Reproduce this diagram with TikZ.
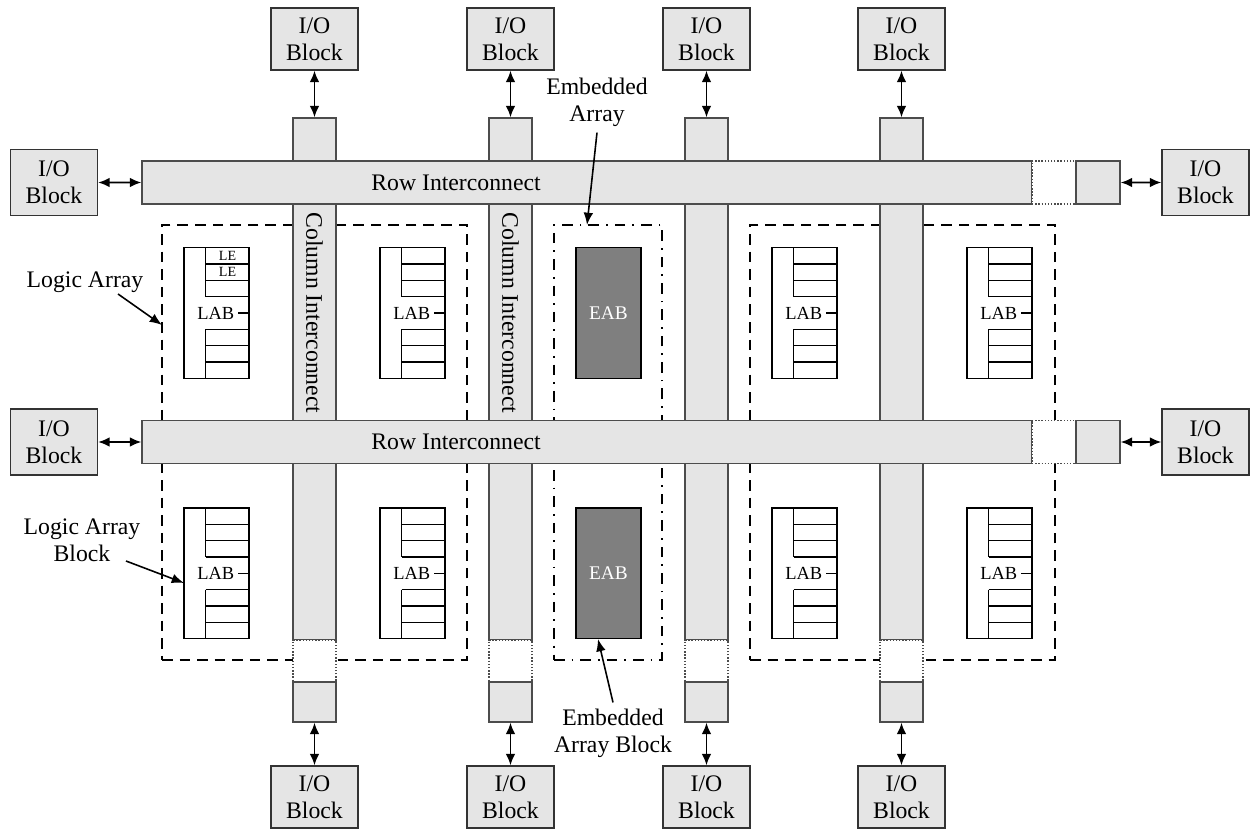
\documentclass[tikz,border=0pt]{standalone}
\usepackage{fontspec}
\setmainfont{Liberation Serif}
\usetikzlibrary{arrows.meta,fit}
\definecolor{lg}{HTML}{E5E5E5}
\definecolor{eabc}{HTML}{7F7F7F}
\tikzset{
 iobox/.style={draw=black!80, fill=lg, line width=0.9pt, minimum width=1.74cm, minimum height=1.24cm, inner sep=0pt, align=center, font=\fontsize{13.5}{15.5}\selectfont},
 bar/.style={draw=black!70, fill=lg, line width=0.9pt, inner sep=0pt},
 gapbar/.style={draw=black!70, fill=white, densely dotted, line width=0.8pt, inner sep=0pt},
 biarrow/.style={{Latex[length=6.5pt,width=5.5pt]}-{Latex[length=6.5pt,width=5.5pt]}, line width=0.9pt},
 ptr/.style={-{Latex[length=7pt,width=5.5pt]}, line width=0.9pt},
 labelt/.style={align=center, font=\fontsize{13.5}{15.5}\selectfont},
 labfr/.style={draw, line width=0.8pt, inner sep=0pt},
 lgbox/.style={draw, line width=0.8pt, dash pattern=on 6pt off 4pt, inner sep=0pt},
 eabbox/.style={draw, line width=0.8pt, dash pattern=on 6pt off 4pt on 1pt off 4pt, inner sep=0pt},
 eab/.style={draw, fill=eabc, line width=0.9pt, inner sep=0pt},
}
\newcommand\labblk[3]{%
\begin{scope}[shift={(#2,#3)}]
\node[labfr, fit={(0,0)(65,130.6)}] (#1) {};
\draw[line width=0.8pt] (21.7,0)--(21.7,49) (21.7,81.6)--(21.7,130.6);
\foreach \yy in {16.3,32.6,49,81.6,97.9,114.2} \draw[line width=0.8pt] (21.7,\yy)--(65,\yy);
\node[font=\fontsize{10.5}{12}\selectfont, inner sep=0pt] at (31.7,65.3) {LAB};
\draw[line width=0.8pt] (54,65.3)--(65,65.3);
\end{scope}}
\begin{document}
\begin{tikzpicture}[x=0.02cm,y=-0.02cm]
\useasboundingbox (0,0) rectangle (1250,834);
% logic array boxes
\node[lgbox, fit={(162,225)(467,660)}] (la1) {};
\node[lgbox, fit={(750,225)(1055,660)}] (la2) {};
\node[eabbox, fit={(554,225)(662,660)}] (ea) {};
% LABs
\labblk{lab1}{184}{247.7}
\labblk{lab2}{380}{247.7}
\labblk{lab3}{184}{508}
\labblk{lab4}{380}{508}
\labblk{lab5}{772}{247.7}
\labblk{lab6}{967}{247.7}
\labblk{lab7}{772}{508}
\labblk{lab8}{967}{508}
\node[font=\fontsize{8}{9}\selectfont, inner sep=0pt] at (227.5,255.9) {LE};
\node[font=\fontsize{8}{9}\selectfont, inner sep=0pt] at (227.5,272.2) {LE};
% EABs
\node[eab, fit={(576,247.7)(641,378.3)}] (eab1) {};
\node[eab, fit={(576,508)(641,638.6)}] (eab2) {};
\node[text=white, font=\fontsize{11}{13}\selectfont] at (eab1.center) {EAB};
\node[text=white, font=\fontsize{11}{13}\selectfont] at (eab2.center) {EAB};
% columns
\foreach \x/\n in {314.5/1, 510.5/2, 706.5/3, 901.5/4}{
  \node[bar, fit={({\x-21.5},118)({\x+21.5},640)}] (c\n a) {};
  \node[gapbar, fit={({\x-21.5},640)({\x+21.5},682)}] (c\n b) {};
  \node[bar, fit={({\x-21.5},682)({\x+21.5},722)}] (c\n c) {};
  \node[iobox] (ioT\n) at (\x,39) {I/O\\Block};
  \node[iobox] (ioB\n) at (\x,797) {I/O\\Block};
  \draw[biarrow] (ioT\n.south) -- (c\n a.north);
  \draw[biarrow] (c\n c.south) -- (ioB\n.north);
}
\node[labelt, rotate=-90] at (314.5,313) {Column Interconnect};
\node[labelt, rotate=-90] at (510.5,313) {Column Interconnect};
% rows
\foreach \y/\n in {182.5/1, 442/2}{
  \node[bar, fit={(142,{\y-21.5})(1032,{\y+21.5})}] (r\n a) {};
  \node[gapbar, fit={(1032,{\y-21.5})(1076,{\y+21.5})}] (r\n b) {};
  \node[bar, fit={(1076,{\y-21.5})(1120,{\y+21.5})}] (r\n c) {};
  \node[labelt] at (456,\y) {Row Interconnect};
  \node[iobox, minimum height=1.32cm] (ioL\n) at (54,\y) {I/O\\Block};
  \node[iobox, minimum height=1.32cm] (ioR\n) at (1205.5,\y) {I/O\\Block};
  \draw[biarrow] (ioL\n.east) -- (r\n a.west);
  \draw[biarrow] (r\n c.east) -- (ioR\n.west);
}
% callouts
\node[labelt] (tEA) at (597,102) {Embedded\\Array};
\coordinate (pEA) at (587,225);
\draw[ptr] (tEA.south) -- (pEA);
\node[labelt] (tEAB) at (613,733) {Embedded\\Array Block};
\coordinate (pEAB) at (598,639);
\draw[ptr] (tEAB.north) -- (pEAB);
\node[labelt] (tLA) at (85,282) {Logic Array};
\coordinate (pLA) at (162,325);
\draw[ptr] (118,294) -- (pLA);
\node[labelt] (tLAB) at (82,540) {Logic Array\\Block};
\coordinate (pLAB) at (184,583);
\draw[ptr] (126,561) -- (pLAB);
\end{tikzpicture}
\end{document}
